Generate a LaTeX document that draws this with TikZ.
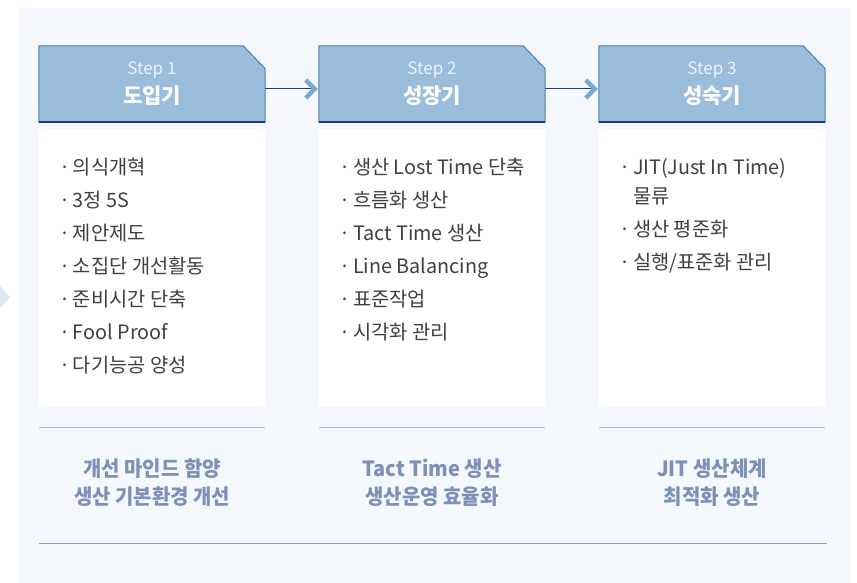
\documentclass[tikz,border=0pt]{standalone}
\usepackage{fontspec}
\setmainfont{Noto Sans CJK KR}
\newfontfamily\narrowfont[FakeStretch=0.95]{Noto Sans CJK KR}
\usepackage{tikz}
\usetikzlibrary{positioning, calc, backgrounds}
\definecolor{bgPale}{RGB}{244, 248, 253}
\definecolor{edgePale}{RGB}{221, 230, 243}
\definecolor{headFill}{RGB}{154, 189, 219}
\definecolor{headEdge}{RGB}{83, 121, 179}
\definecolor{navyLine}{RGB}{27, 61, 130}
\definecolor{chevBlue}{RGB}{123, 167, 208}
\definecolor{txtGray}{RGB}{64, 64, 64}
\definecolor{goalBlue}{RGB}{125, 144, 181}
\definecolor{ruleBlue}{RGB}{166, 182, 208}
\definecolor{baseBlue}{RGB}{140, 157, 192}
\definecolor{stepWhite}{RGB}{234, 241, 248}

\begin{document}
\begin{tikzpicture}[x=1pt, y=-1pt,
        head/.style={rectangle, minimum width=226pt, minimum height=76pt, inner sep=0pt,
            align=center, text=white, font=\fontsize{17}{29}\selectfont},
        bodybox/.style={rectangle, fill=white, minimum width=226pt, minimum height=278pt, inner sep=0pt},
        items/.style={anchor=north west, align=left, inner sep=0pt, text=txtGray,
            font=\fontsize{19.8}{33}\selectfont},
        goal/.style={align=center, inner sep=0pt, text=goalBlue,
            font=\narrowfont\bfseries\fontsize{21}{28}\selectfont},
        link/.style={line width=1pt, draw=navyLine},
        chev/.style={line width=4.5pt, draw=chevBlue},
        rule/.style={line width=1.2pt, draw=ruleBlue},
        baserule/.style={line width=1.3pt, draw=baseBlue}
    ]
    \useasboundingbox (0,0) rectangle (857,583);
    \newcommand{\itm}{\makebox[14pt][l]{·}}
    % step headers
    \node[head] (h1) at (152,84) {{\color{stepWhite}Step 1}\\{\bfseries\fontsize{21}{29}\selectfont 도입기}};
    \node[head] (h2) at (432,84) {{\color{stepWhite}Step 2}\\{\bfseries\fontsize{21}{29}\selectfont 성장기}};
    \node[head] (h3) at (712,84) {{\color{stepWhite}Step 3}\\{\bfseries\fontsize{21}{29}\selectfont 성숙기}};
    \begin{scope}[on background layer]
        \fill[bgPale] (18,8) rectangle (851,583);
        \fill[edgePale] (0,286) -- (10,297) -- (0,308) -- cycle;
        \foreach \n in {h1,h2,h3}{
            \filldraw[fill=headFill, draw=headEdge, line width=1pt]
                (\n.south west) -- (\n.north west) -- ($(\n.north east)+(-22,0)$)
                -- ($(\n.north east)+(0,23)$) -- (\n.south east) -- cycle;
            \draw[navyLine, line width=1.5pt] (\n.south west) -- (\n.south east);
        }
    \end{scope}
    % links between steps
    \coordinate (a1) at ($(h1.east)+(0,5)$);
    \coordinate (a2) at ($(h2.west)+(0,5)$);
    \coordinate (a3) at ($(h2.east)+(0,5)$);
    \coordinate (a4) at ($(h3.west)+(0,5)$);
    \draw[link] (a1) -- ($(a2)+(-6,0)$);
    \draw[link] (a3) -- ($(a4)+(-6,0)$);
    \draw[chev] ($(a2)+(-13,-9)$) -- ($(a2)+(-4,0)$) -- ($(a2)+(-13,9)$);
    \draw[chev] ($(a4)+(-13,-9)$) -- ($(a4)+(-4,0)$) -- ($(a4)+(-13,9)$);
    % body boxes
    \node[bodybox, below=7pt of h1] (b1) {};
    \node[bodybox, below=7pt of h2] (b2) {};
    \node[bodybox, below=7pt of h3] (b3) {};
    \node[items] (l1) at ($(b1.north west)+(20,28.5)$) {\itm 의식개혁\\\itm 3정 5S\\\itm 제안제도\\\itm 소집단 개선활동\\\itm 준비시간 단축\\\itm Fool Proof\\\itm 다기능공 양성};
    \node[items] (l2) at ($(b2.north west)+(20,28.5)$) {\itm 생산 Lost Time 단축\\\itm 흐름화 생산\\\itm Tact Time 생산\\\itm Line Balancing\\\itm 표준작업\\\itm 시각화 관리};
    \node[items] (l3) at ($(b3.north west)+(20,28.5)$) {\itm JIT(Just In Time)\\[-4pt]\hspace*{14pt}물류\\\itm 생산 평준화\\\itm 실행/표준화 관리};
    % rules and goals
    \foreach \n in {b1,b2,b3}{
        \draw[rule] ($(\n.south west)+(0,20)$) -- ($(\n.south east)+(0,20)$);
    }
    \node[goal] (g1) at ($(b1.south)+(0,75)$) {개선 마인드 함양\\생산 기본환경 개선};
    \node[goal] (g2) at ($(b2.south)+(0,75)$) {Tact Time 생산\\생산운영 효율화};
    \node[goal] (g3) at ($(b3.south)+(0,75)$) {JIT 생산체계\\최적화 생산};
    \draw[baserule] ($(b1.south west)+(0,136)$) -- ($(b3.south east)+(2,136)$);
\end{tikzpicture}
\end{document}
